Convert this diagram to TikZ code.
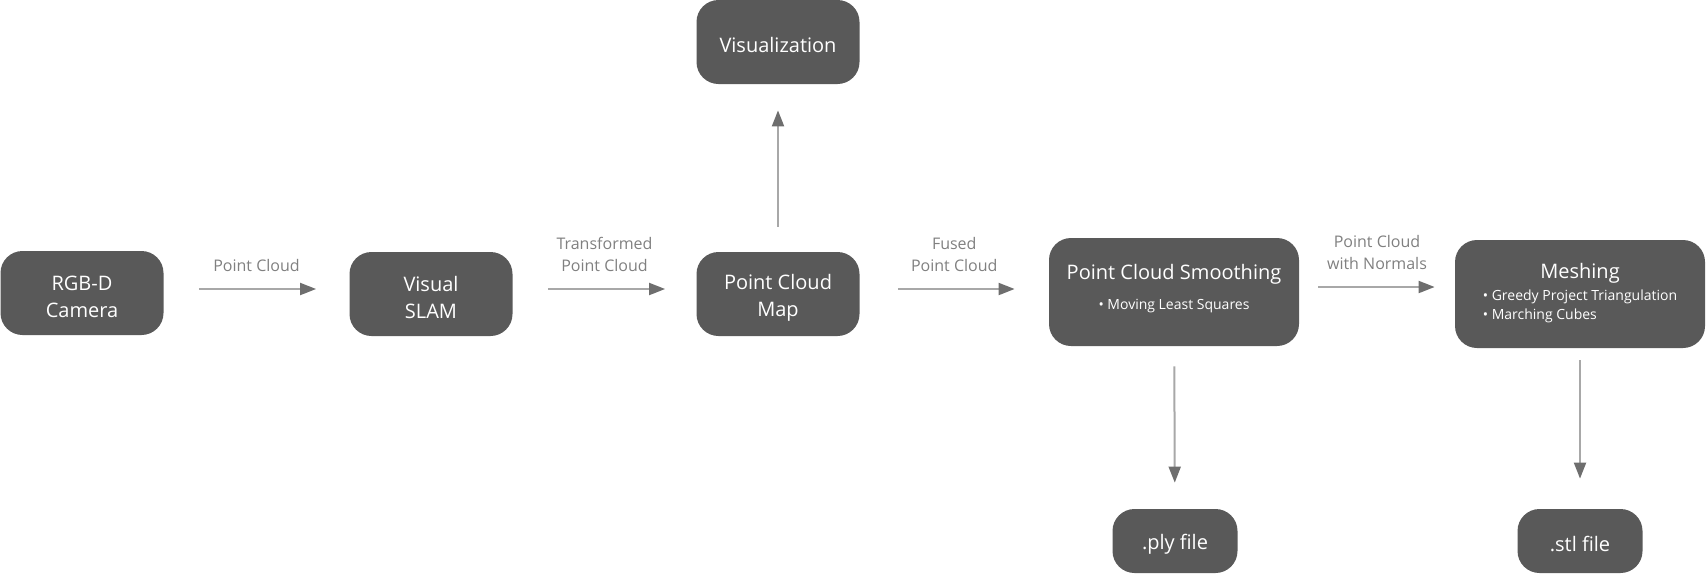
\documentclass[tikz,border=0pt]{standalone}
\usepackage{fontspec}
\setmainfont{Open Sans}
\usetikzlibrary{arrows.meta}
\definecolor{boxgray}{HTML}{595959}
\definecolor{lblgray}{HTML}{808080}
\definecolor{linegray}{HTML}{A8A8A8}
\definecolor{tipgray}{HTML}{6E6E6E}
\newcommand\lift{\rule{0pt}{11pt}}

\begin{document}
\begin{tikzpicture}[x=0.5pt,y=-0.5pt,
    box/.style={fill=boxgray,rounded corners=11pt,text=white,align=center,
      minimum width=81.5pt,minimum height=42pt,inner sep=0pt,font=\fontsize{10}{13.5}\selectfont},
    blk/.style={box},
    bigblk/.style={box,minimum width=125pt,minimum height=54pt},
    fileblk/.style={blk,minimum width=62.5pt,minimum height=32pt},
    flow/.style={draw=linegray,line width=1pt,-{Triangle[length=8pt,width=6pt,color=tipgray]}},
    lbl/.style={text=lblgray,align=center,font=\fontsize{8}{11}\selectfont,inner sep=0pt}]
        \useasboundingbox (0,0) rectangle (1706,574);
        \node[blk] (cam) at (82,293) {\lift RGB-D\\Camera};
        \node[blk] (slam) at (431,294) {\lift Visual\\SLAM};
        \node[blk] (map) at (778,294) {\lift Point Cloud\\Map};
        \node[blk] (vis) at (778,42) {\lift Visualization};
        \node[bigblk] (smooth) at (1174,292) {Point Cloud Smoothing\\[1.5pt]
            {\fontsize{7}{9.5}\selectfont • Moving Least Squares\rule[-5pt]{0pt}{0pt}}};
        \node[bigblk] (mesh) at (1580,294) {Meshing\\[1pt]
            {\fontsize{7}{9.5}\selectfont\begin{tabular}{@{}l@{}}• Greedy Project Triangulation\\• Marching Cubes\end{tabular}}};
        \node[fileblk] (ply) at (1175,541) {\lift .ply file};
        \node[fileblk] (stl) at (1580,541) {\lift .stl file};
        % main row
        \draw[flow,shorten <=17.5pt,shorten >=16.5pt] ([yshift=2pt]cam.east) -- ([yshift=2pt]cam.east -| slam.west)
            node[midway,above=8pt,lbl]{Point Cloud};
        \draw[flow,shorten <=17.5pt,shorten >=15.5pt] ([yshift=2.5pt]slam.east) -- ([yshift=2.5pt]slam.east -| map.west)
            node[midway,above=8pt,lbl]{Transformed\\Point Cloud};
        \draw[flow,shorten <=19pt,shorten >=17pt] ([yshift=2.5pt]map.east) -- ([yshift=2.5pt]map.east -| smooth.west)
            node[midway,above=8pt,lbl]{Fused\\Point Cloud};
        \draw[flow,shorten <=9.5pt,shorten >=10pt] ([yshift=2.5pt]smooth.east) -- ([yshift=2.5pt]smooth.east -| mesh.west)
            node[midway,above=8pt,lbl]{Point Cloud\\with Normals};
        % branches
        \draw[flow,shorten <=12.5pt,shorten >=13pt] (map) -- (vis);
        \draw[flow,shorten <=10pt,shorten >=13pt] (smooth) -- (ply);
        \draw[flow,shorten <=6pt,shorten >=15pt] (mesh) -- (stl);
      \end{tikzpicture}
\end{document}
